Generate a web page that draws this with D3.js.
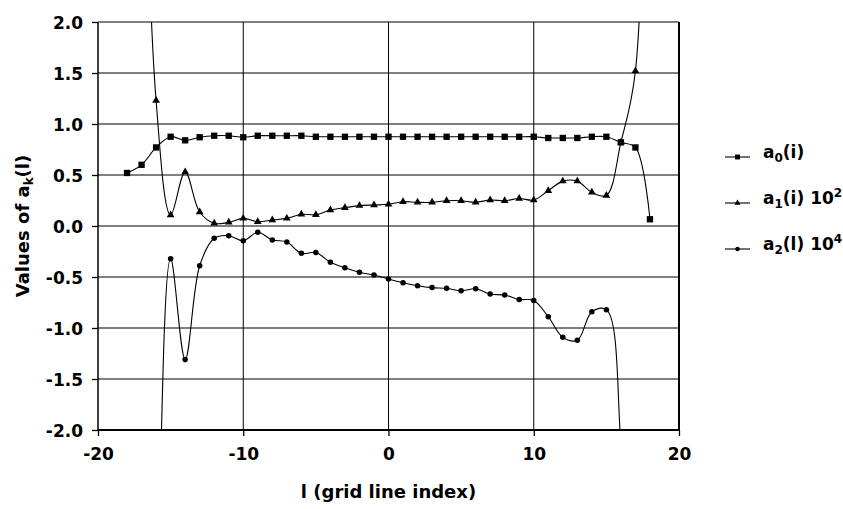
<!DOCTYPE html>
<html>
<head>
<meta charset="utf-8">
<script src="https://cdn.jsdelivr.net/npm/d3@7"></script>
<style>
  body { margin: 0; background: #fff; }
  text { font-family: "DejaVu Sans", sans-serif; font-weight: bold; fill: #000; }
</style>
</head>
<body>
<svg id="chart" width="843" height="509"></svg>
<script>
// grid line index i
const gridIndex = [-18,-17,-16,-15,-14,-13,-12,-11,-10,-9,-8,-7,-6,-5,-4,-3,-2,-1,0,
                   1,2,3,4,5,6,7,8,9,10,11,12,13,14,15,16,17,18];

// a0(i)
const a0 = [0.52,0.60,0.77,0.875,0.84,0.87,0.885,0.885,0.87,0.885,0.885,0.885,0.885,
            0.875,0.875,0.875,0.875,0.875,0.875,0.875,0.875,0.875,0.875,0.875,
            0.875,0.875,0.875,0.875,0.875,
            0.863,0.863,0.863,0.875,0.875,0.82,0.77,0.066];

// a1(i) * 10^2
const a1 = [12,5.5,1.23,0.108,0.53,0.137,0.026,0.036,0.075,0.042,0.059,0.075,
            0.115,0.11,0.157,0.18,0.2,0.206,0.213,
            0.238,0.232,0.232,0.248,0.248,0.232,0.255,0.248,0.27,0.255,
            0.346,0.44,0.44,0.33,0.30,0.82,1.52,7];

// a2(i) * 10^4
const a2 = [-20,-9,-4.2,-0.32,-1.31,-0.39,-0.12,-0.095,-0.144,-0.062,-0.137,-0.157,
            -0.268,-0.26,-0.356,-0.41,-0.454,-0.48,-0.52,
            -0.556,-0.585,-0.604,-0.611,-0.634,-0.615,-0.667,-0.677,-0.72,-0.73,
            -0.89,-1.09,-1.12,-0.84,-0.82,-2.15,-6,-14];

const xTicks = [-20,-10,0,10,20];
const yTicks = [-2,-1.5,-1,-0.5,0,0.5,1,1.5,2];

const svg = d3.select("#chart");
const plot = { left: 98, right: 679, top: 22, bottom: 430 };

const x = d3.scaleLinear().domain([-20, 20]).range([plot.left, plot.right]);
const y = d3.scaleLinear().domain([-2, 2]).range([plot.bottom, plot.top]);

// plain hyphen for negative tick labels
const fmtX = d => d3.format("d")(d).replace("\u2212", "-");
const fmtY = d => d3.format(".1f")(d).replace("\u2212", "-");

// clip region for the curves and markers
svg.append("defs").append("clipPath").attr("id", "plotClip")
  .append("rect")
  .attr("x", plot.left).attr("y", plot.top)
  .attr("width", plot.right - plot.left).attr("height", plot.bottom - plot.top);

// horizontal grid lines
svg.append("g")
  .selectAll("line").data(yTicks).join("line")
  .attr("x1", plot.left).attr("x2", plot.right)
  .attr("y1", d => y(d)).attr("y2", d => y(d))
  .attr("stroke", "#000").attr("stroke-width", 1);

// vertical grid lines
svg.append("g")
  .selectAll("line").data(xTicks.slice(1, -1)).join("line")
  .attr("x1", d => x(d)).attr("x2", d => x(d))
  .attr("y1", plot.top).attr("y2", plot.bottom)
  .attr("stroke", "#000").attr("stroke-width", 1);

// right frame edge
svg.append("line")
  .attr("x1", plot.right).attr("x2", plot.right)
  .attr("y1", plot.top).attr("y2", plot.bottom)
  .attr("stroke", "#000").attr("stroke-width", 2);

// axes
const xAxis = d3.axisBottom(x).tickValues(xTicks).tickSize(6).tickFormat(fmtX);
const yAxis = d3.axisLeft(y).tickValues(yTicks).tickSize(6).tickFormat(fmtY);

const gx = svg.append("g").attr("transform", `translate(0,${plot.bottom})`).call(xAxis);
gx.select(".domain").attr("stroke-width", 2).attr("d", `M${plot.left},0H${plot.right}`);
gx.selectAll(".tick line").attr("stroke-width", 1.3);
gx.selectAll(".tick text").attr("font-size", 17).attr("font-family", null).attr("dy", null).attr("y", 30);

const gy = svg.append("g").attr("transform", `translate(${plot.left},0)`).call(yAxis);
gy.select(".domain").attr("stroke-width", 1.5).attr("d", `M0,${plot.top}V${plot.bottom}`);
gy.selectAll(".tick line").attr("stroke-width", 1.3);
gy.selectAll(".tick text").attr("font-size", 17).attr("font-family", null).attr("x", -15).attr("dy", "0.36em");

// axis titles
svg.append("text")
  .attr("x", x(0)).attr("y", 498)
  .attr("text-anchor", "middle").attr("font-size", 18)
  .text("l (grid line index)");

const yTitle = svg.append("text")
  .attr("transform", "translate(29,226) rotate(-90)")
  .attr("text-anchor", "middle").attr("font-size", 18);
yTitle.append("tspan").text("Values of a");
yTitle.append("tspan").attr("font-size", 12).attr("dy", 4).text("k");
yTitle.append("tspan").attr("dy", -4).text("(l)");

// series
const series = [
  { values: a0, marker: "square" },
  { values: a1, marker: "triangle" },
  { values: a2, marker: "circle" }
];

const curve = d3.line()
  .x(d => x(d[0])).y(d => y(d[1]))
  .curve(d3.curveCatmullRom.alpha(0.5));

const plotArea = svg.append("g").attr("clip-path", "url(#plotClip)");

const symbolPath = (type, size) => {
  const t = type === "square" ? d3.symbolSquare : type === "triangle" ? d3.symbolTriangle : d3.symbolCircle;
  return d3.symbol().type(t).size(size)();
};
const markerSize = { square: 40, triangle: 26, circle: 24 };

series.forEach(s => {
  const pts = gridIndex.map((g, k) => [g, s.values[k]]);
  plotArea.append("path")
    .attr("d", curve(pts))
    .attr("fill", "none").attr("stroke", "#000").attr("stroke-width", 1.1);
  plotArea.append("g")
    .selectAll("path").data(pts).join("path")
    .attr("transform", d => `translate(${x(d[0])},${y(d[1])})`)
    .attr("d", symbolPath(s.marker, markerSize[s.marker]))
    .attr("fill", "#000");
});

// legend
const legendRows = [
  { marker: "square", yPos: 157, sub: "0", arg: "(i)", pow: null },
  { marker: "triangle", yPos: 203, sub: "1", arg: "(i) 10", pow: "2" },
  { marker: "circle", yPos: 249, sub: "2", arg: "(l) 10", pow: "4" }
];
const legendMarker = { square: 24, triangle: 16, circle: 16 };

const legend = svg.append("g");
legendRows.forEach(r => {
  legend.append("line")
    .attr("x1", 725).attr("x2", 750).attr("y1", r.yPos).attr("y2", r.yPos)
    .attr("stroke", "#000").attr("stroke-width", 1.1);
  legend.append("path")
    .attr("transform", `translate(737.5,${r.yPos})`)
    .attr("d", symbolPath(r.marker, legendMarker[r.marker]))
    .attr("fill", "#000");
  const t = legend.append("text")
    .attr("x", 763).attr("y", r.yPos + 1).attr("font-size", 17);
  t.append("tspan").text("a");
  t.append("tspan").attr("font-size", 12).attr("dy", 4).text(r.sub);
  t.append("tspan").attr("dy", -4).text(r.arg);
  if (r.pow) t.append("tspan").attr("font-size", 12).attr("dy", -7).text(r.pow);
});
</script>
</body>
</html>
